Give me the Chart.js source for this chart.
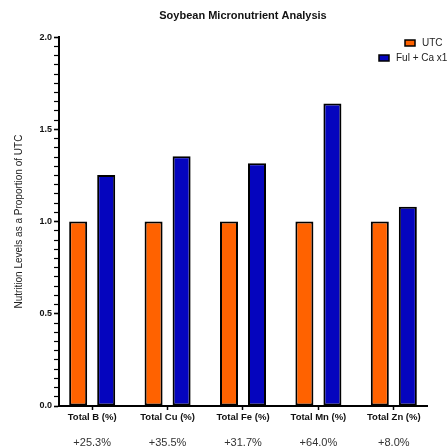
<!DOCTYPE html>
<html>
<head>
<meta charset="utf-8">
<script src="https://cdn.jsdelivr.net/npm/chart.js@4"></script>
<style>
  html,body{margin:0;padding:0;background:#fff;}
  #wrap{width:448px;height:446px;position:relative;}
</style>
</head>
<body>
<div id="wrap"><canvas id="chart"></canvas></div>
<script>
// categories + series (values as proportion of UTC)
const categories = ["Total B (%)","Total Cu (%)","Total Fe (%)","Total Mn (%)","Total Zn (%)"];
const utc  = [1, 1, 1, 1, 1];
const ful  = [1.253, 1.355, 1.317, 1.640, 1.080];
const seriesNames = ["UTC","Ful + Ca x1"];
const colors = ["#FF6200","#0505BE"];
const yMajor = [0, 0.5, 1.0, 1.5, 2.0];

const FONT = "'Liberation Sans', Arial, sans-serif";

// % change labels under each group + legend in the top right corner
const extras = {
  id: "extras",
  afterDraw(chart){
    const {ctx, scales:{x}} = chart;
    ctx.save();
    ctx.font = "11px " + FONT;
    ctx.fillStyle = "#333";
    ctx.textAlign = "center";
    ctx.textBaseline = "top";
    ful.forEach((v,i)=>{
      const pct = (v/utc[i]-1)*100;
      ctx.fillText((pct>=0?"+":"")+pct.toFixed(1)+"%", x.getPixelForValue(i), 437);
    });
    // legend
    const items = [[405, 43], [379, 58]];
    ctx.textAlign = "left";
    ctx.textBaseline = "middle";
    ctx.font = "10px " + FONT;
    seriesNames.forEach((name,i)=>{
      const [bx, by] = items[i];
      ctx.fillStyle = colors[i];
      ctx.fillRect(bx, by-3, 10, 6);
      ctx.strokeStyle = "#000";
      ctx.lineWidth = 1.5;
      ctx.strokeRect(bx, by-3, 10, 6);
      ctx.fillStyle = "#222";
      ctx.fillText(name, bx+17, by);
    });
    ctx.restore();
  }
};

const isMajor = v => Math.abs(v*2 - Math.round(v*2)) < 1e-6;

new Chart(document.getElementById("chart"), {
  type: "bar",
  data: {
    datasets: [utc, ful].map((vals,k)=>({
      label: seriesNames[k],
      data: vals.map((v,i)=>({x:i, y:v})),
      backgroundColor: colors[k],
      borderColor: "#000",
      borderWidth: 2,
      borderSkipped: false,
      categoryPercentage: 0.743,
      barPercentage: 0.643
    }))
  },
  options: {
    responsive: true,
    maintainAspectRatio: false,
    devicePixelRatio: 1,
    animation: false,
    layout: {padding: {left: 0, right: 21, top: 0, bottom: 20}},
    plugins: {
      legend: {display: false},
      tooltip: {enabled: false},
      title: {
        display: true,
        text: "Soybean Micronutrient Analysis",
        fullSize: false,
        color: "#111",
        font: {family: FONT, size: 11, weight: "bold"},
        padding: {top: 9, bottom: 15}
      }
    },
    scales: {
      x: {
        type: "linear",
        offset: false,
        min: -0.44,
        max: categories.length - 1 + 0.44,
        afterFit(s){ s.height = 20; },
        grid: {drawOnChartArea: false, drawTicks: true, tickLength: 4, tickColor: "#000", tickWidth: 1.5, offset: false},
        border: {color: "#000", width: 2},
        ticks: {
          stepSize: 1,
          includeBounds: false,
          autoSkip: false,
          maxRotation: 0,
          padding: 2,
          color: "#111",
          font: {family: FONT, size: 9.5, weight: "bold"},
          callback: v => categories[v] ?? ""
        }
      },
      y: {
        min: 0,
        max: 2,
        afterFit(s){ s.width = 59; },
        grid: {
          drawOnChartArea: false, drawTicks: true, tickLength: 5, tickColor: "#000",
          tickWidth: c => (c.tick && isMajor(c.tick.value)) ? 1.6 : 1.2
        },
        border: {color: "#000", width: 2},
        title: {
          display: true,
          text: "Nutrition Levels as a Proportion of UTC",
          color: "#222",
          font: {family: FONT, size: 10},
          padding: {top: 13, bottom: 0}
        },
        ticks: {
          stepSize: 0.05,
          maxTicksLimit: 100,
          autoSkip: false,
          padding: 2,
          color: "#111",
          font: {family: FONT, size: 9, weight: "bold"},
          callback: v => isMajor(v) && yMajor.includes(Math.round(v*2)/2) ? v.toFixed(1) : ""
        }
      }
    }
  },
  plugins: [extras]
});
</script>
</body>
</html>
